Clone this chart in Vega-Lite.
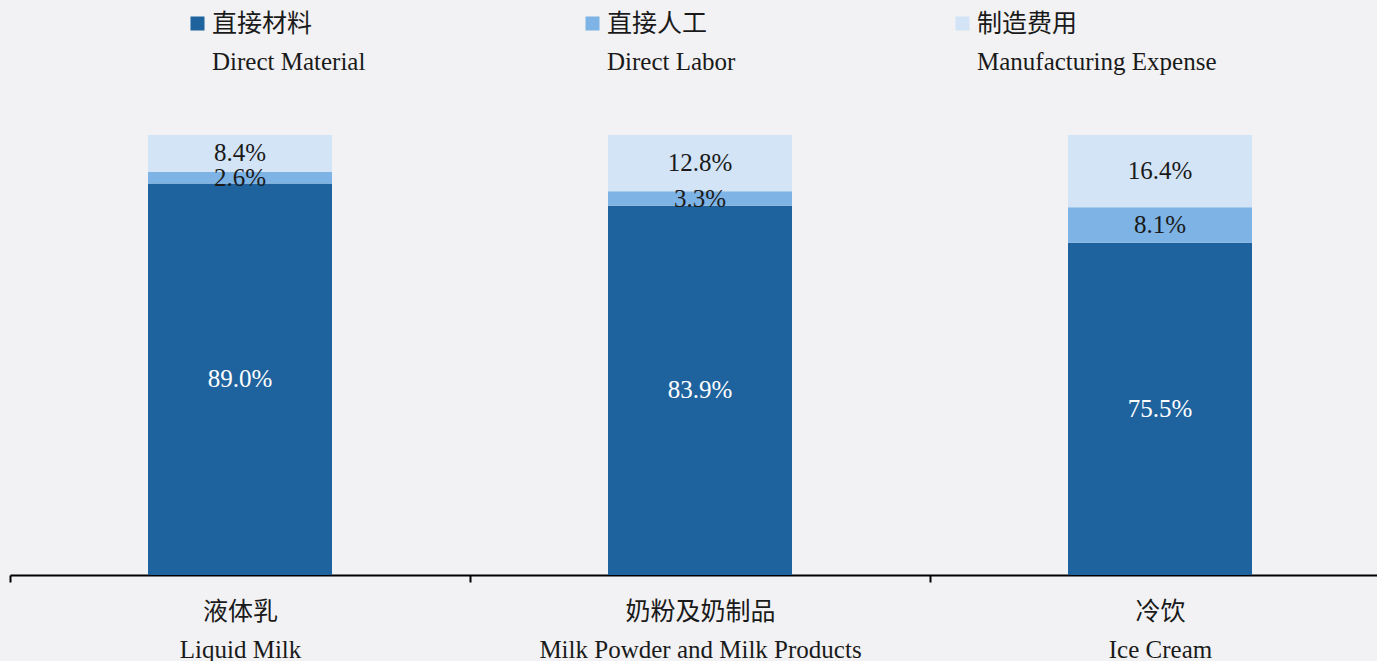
{
  "$schema": "https://vega.github.io/schema/vega-lite/v6.json",
  "width": 1367,
  "height": 440,
  "autosize": {"type": "none"},
  "padding": {"left": 10, "top": 135, "right": 0, "bottom": 86},
  "background": "#f2f2f4",
  "config": {
    "view": {"stroke": null},
    "font": "Liberation Serif, Noto Sans CJK SC",
    "style": {"guide-label": {"lineHeight": 38}}
  },
  "data": {
    "values": [
      {"category": "液体乳|Liquid Milk", "component": "直接材料|Direct Material", "order": 1, "value": 0.890},
      {"category": "液体乳|Liquid Milk", "component": "直接人工|Direct Labor", "order": 2, "value": 0.026},
      {"category": "液体乳|Liquid Milk", "component": "制造费用|Manufacturing Expense", "order": 3, "value": 0.084},
      {"category": "奶粉及奶制品|Milk Powder and Milk Products", "component": "直接材料|Direct Material", "order": 1, "value": 0.839},
      {"category": "奶粉及奶制品|Milk Powder and Milk Products", "component": "直接人工|Direct Labor", "order": 2, "value": 0.033},
      {"category": "奶粉及奶制品|Milk Powder and Milk Products", "component": "制造费用|Manufacturing Expense", "order": 3, "value": 0.128},
      {"category": "冷饮|Ice Cream", "component": "直接材料|Direct Material", "order": 1, "value": 0.755},
      {"category": "冷饮|Ice Cream", "component": "直接人工|Direct Labor", "order": 2, "value": 0.081},
      {"category": "冷饮|Ice Cream", "component": "制造费用|Manufacturing Expense", "order": 3, "value": 0.164}
    ]
  },
  "transform": [
    {"stack": "value", "groupby": ["category"], "sort": [{"field": "order", "order": "ascending"}], "as": ["v0", "v1"]},
    {"calculate": "(datum.v0 + datum.v1) / 2", "as": "mid"}
  ],
  "encoding": {
    "x": {
      "field": "category",
      "type": "nominal",
      "sort": ["液体乳|Liquid Milk", "奶粉及奶制品|Milk Powder and Milk Products", "冷饮|Ice Cream"],
      "scale": {"range": [0, 1380], "paddingInner": 0.6, "paddingOuter": 0.3},
      "axis": {
        "title": null,
        "labelAngle": 0,
        "labelExpr": "split(datum.label, '|')",
        "labelFontSize": 25,
        "labelColor": "#1a1a1a",
        "labelLineHeight": 38,
        "labelPadding": 17,
        "labelLimit": 500,
        "domainColor": "#000000",
        "domainWidth": 2,
        "tickColor": "#000000",
        "tickWidth": 2,
        "tickSize": 7,
        "tickOffset": -230,
        "labelOffset": 230
      }
    }
  },
  "layer": [
    {
      "mark": {"type": "bar"},
      "encoding": {
        "y": {"field": "v0", "type": "quantitative", "scale": {"domain": [0, 1]}, "axis": null},
        "y2": {"field": "v1"},
        "color": {
          "field": "component",
          "type": "nominal",
          "scale": {
            "domain": ["直接材料|Direct Material", "直接人工|Direct Labor", "制造费用|Manufacturing Expense"],
            "range": ["#1f639e", "#7db3e5", "#d3e4f6"]
          },
          "legend": {
            "title": null,
            "orient": "none",
            "legendX": 175,
            "legendY": -124,
            "direction": "horizontal",
            "columns": 3,
            "gridAlign": "none",
            "columnPadding": 214,
            "symbolType": "square",
            "symbolSize": 196,
            "symbolStrokeWidth": 0,
            "labelFontSize": 25,
            "labelColor": "#1a1a1a",
            "labelExpr": "split(datum.label, '|')",
            "labelOffset": 2,
            "labelLimit": 500,
            "padding": 0
          }
        }
      }
    },
    {
      "mark": {"type": "text", "fontSize": 25, "align": "center", "baseline": "middle"},
      "encoding": {
        "y": {"field": "mid", "type": "quantitative"},
        "text": {"field": "value", "type": "quantitative", "format": ".1%"},
        "color": {"condition": {"test": "datum.order == 1", "value": "#ffffff"}, "value": "#1a1a1a"}
      }
    }
  ]
}
